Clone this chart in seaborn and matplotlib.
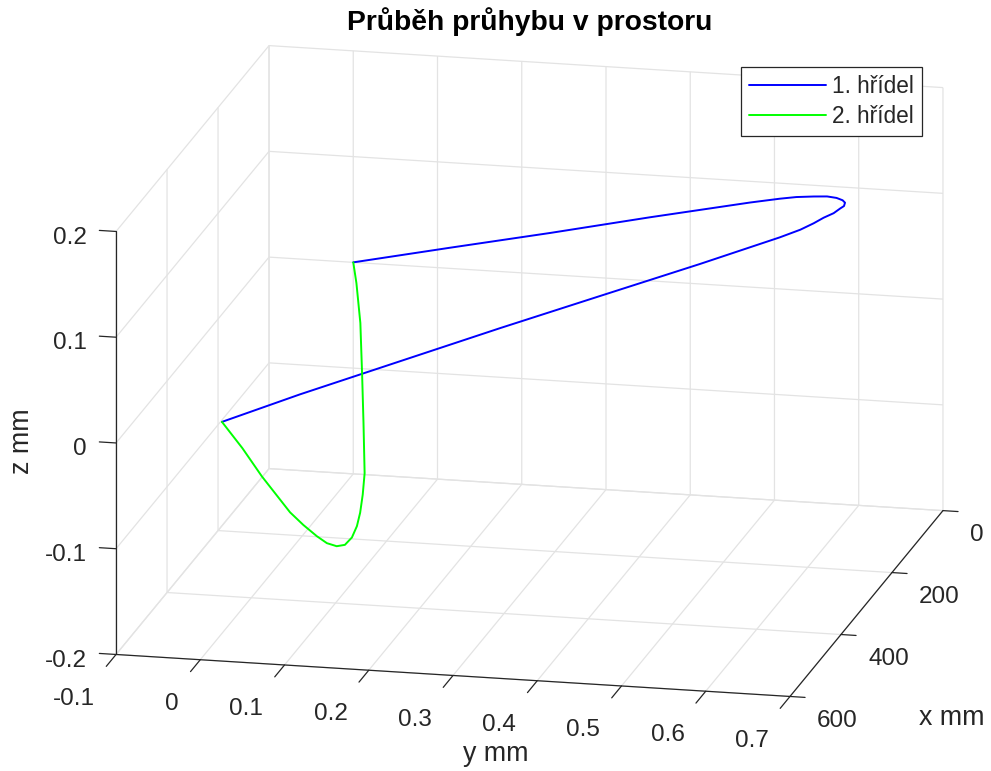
import numpy as np
import matplotlib
matplotlib.use('Agg')
import matplotlib.pyplot as plt
from matplotlib.transforms import ScaledTranslation
import seaborn as sns

# 1. hřídel (shaft 1): position along shaft x [mm], deflections y, z [mm]
x1 = [0, 47, 96, 146, 195, 210, 218, 226, 233, 239, 245, 252, 256, 261, 267, 273, 279, 285, 293,
      325, 365, 404, 444, 484, 515]
y1 = [0.0, 0.129, 0.263, 0.396, 0.530, 0.570, 0.592, 0.615, 0.633, 0.646, 0.655, 0.660, 0.660,
      0.657, 0.651, 0.641, 0.631, 0.617, 0.595, 0.510, 0.403, 0.297, 0.190, 0.083, 0.0]
z1 = [0.0, 0.034, 0.069, 0.105, 0.140, 0.150, 0.155, 0.159, 0.162, 0.163, 0.163, 0.163, 0.161,
      0.160, 0.157, 0.154, 0.150, 0.145, 0.139, 0.119, 0.095, 0.071, 0.046, 0.021, 0.0]

# 2. hřídel (shaft 2)
x2 = [515, 478, 441, 390, 371, 351, 338, 326, 317, 306, 293, 277, 257, 233, 178, 127, 68, 24, 0]
y2 = [0.0, 0.013, 0.025, 0.043, 0.053, 0.063, 0.071, 0.079, 0.086, 0.091, 0.093, 0.092, 0.089,
      0.084, 0.066, 0.049, 0.029, 0.011, 0.0]
z2 = [0.0, -0.035, -0.072, -0.120, -0.137, -0.153, -0.163, -0.169, -0.170, -0.166, -0.159, -0.151,
      -0.140, -0.127, -0.096, -0.068, -0.036, -0.012, 0.0]

series_labels = ['1. hřídel', '2. hřídel']

x_ticks = [0, 200, 400, 600]
x_tick_labels = ['0', '200', '400', '600']
y_ticks = [-0.1, 0.0, 0.1, 0.2, 0.3, 0.4, 0.5, 0.6, 0.7]
y_tick_labels = ['-0.1', '0', '0.1', '0.2', '0.3', '0.4', '0.5', '0.6', '0.7']
z_ticks = [-0.2, -0.1, 0.0, 0.1, 0.2]
z_tick_labels = ['-0.2', '-0.1', '0', '0.1', '0.2']

sns.set_theme(style='white')
plt.rcParams['font.family'] = ['Liberation Sans', 'DejaVu Sans']
plt.rcParams['axes.unicode_minus'] = False

TXT = '#262626'
GRID = '#e3e3e3'
W, H = 991, 771

fig = plt.figure(figsize=(W / 100, H / 100), dpi=100)
fig.patch.set_facecolor('white')
ax = fig.add_axes([0.0238, 0.00525, 1.0, 1.0], projection='3d', proj_type='ortho')
ax.view_init(elev=15.97, azim=12.76)
ax.set_box_aspect((692.6, 691, 440), zoom=1.3507)

ax.plot(x1, y1, z1, color=(0, 0, 1), lw=1.4, label=series_labels[0])
ax.plot(x2, y2, z2, color=(0, 1, 0), lw=1.4, label=series_labels[1])

ax.set_xlim(0, 600); ax.set_ylim(-0.1, 0.7); ax.set_zlim(-0.2, 0.2)
ax.set_xticks(x_ticks, x_tick_labels)
ax.set_yticks(y_ticks, y_tick_labels)
ax.set_zticks(z_ticks, z_tick_labels)

for axis in (ax.xaxis, ax.yaxis, ax.zaxis):
    axis.set_pane_color((1, 1, 1, 0))
    axis.pane.set_edgecolor(GRID)
    axis.pane.set_linewidth(0.9)
    axis._axinfo['grid']['color'] = GRID
    axis._axinfo['grid']['linewidth'] = 0.9
    axis._axinfo['tick']['inward_factor'] = 0.0
    axis._axinfo['tick']['linewidth'] = {True: 0.9, False: 0.5}
    axis._axinfo['tick']['color'] = TXT
    axis.line.set_color(TXT)
    axis.line.set_linewidth(0.9)

ax.xaxis._axinfo['tick']['outward_factor'] = -0.28
ax.yaxis._axinfo['tick']['outward_factor'] = -0.80
ax.zaxis._axinfo['tick']['outward_factor'] = 0.31
ax.zaxis._get_tickdir = lambda *a, **k: 1

ax.tick_params(axis='x', labelsize=17.5, colors=TXT, pad=3.6)
ax.tick_params(axis='y', labelsize=17.5, colors=TXT, pad=7.7)
ax.tick_params(axis='z', labelsize=17.5, colors=TXT, pad=2.2)
ax.grid(True)


def offset_ticklabels(axis, dx, dy, ha):
    """Nudge tick labels by (dx, dy) pixels; the 3D axis resets transforms on each draw."""
    base = type(axis).get_major_ticks
    off = ScaledTranslation(dx / 100, dy / 100, fig.dpi_scale_trans)

    def get_major_ticks(numticks=None):
        ticks = base(axis, numticks)
        for t in ticks:
            t.label1.set_transform(ax.transData + off)
            t.label1.set_ha(ha)
        return ticks

    axis.get_major_ticks = get_major_ticks


offset_ticklabels(ax.xaxis, 0, 5, 'left')
offset_ticklabels(ax.yaxis, -13, 0, 'right')
offset_ticklabels(ax.zaxis, 0, 10, 'right')

fig.text(530 / W, 1 - 22 / H, 'Průběh průhybu v prostoru', ha='center', va='center',
         fontsize=20.3, fontweight='bold', color='black')
fig.text(952 / W, 1 - 718 / H, 'x mm', ha='center', va='center', fontsize=19.3, color=TXT)
fig.text(496 / W, 1 - 754 / H, 'y mm', ha='center', va='center', fontsize=19.3, color=TXT)
fig.text(22 / W, 1 - 441 / H, 'z mm', ha='center', va='center', fontsize=19.3, color=TXT,
         rotation=90)

h, l = ax.get_legend_handles_labels()
leg = fig.legend(h, l, loc='upper right', bbox_to_anchor=(922 / W, 1 - 66.5 / H),
                 fontsize=16.3, frameon=True, fancybox=False, framealpha=1,
                 edgecolor=TXT, handlelength=3.4, handletextpad=0.25, borderpad=0.37,
                 labelspacing=0.32, borderaxespad=0)
leg.get_frame().set_linewidth(0.9)
for t in leg.get_texts():
    t.set_color(TXT)

fig.savefig('out.png', dpi=100)
